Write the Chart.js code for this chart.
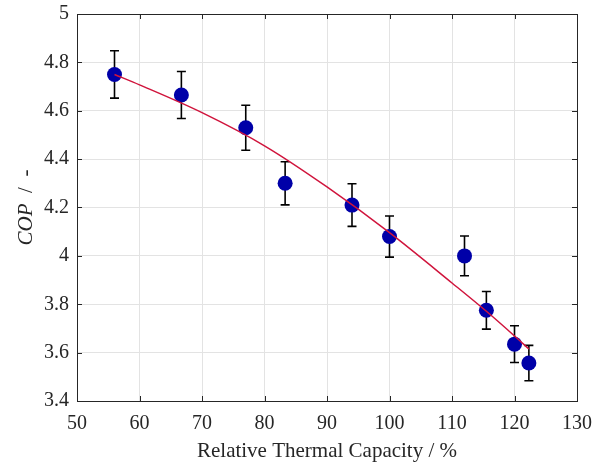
<!DOCTYPE html>
<html>
<head>
<meta charset="utf-8">
<script src="https://cdn.jsdelivr.net/npm/chart.js@4.4.1/dist/chart.umd.min.js"></script>
<style>
  body { margin: 0; background: #fff; }
  #wrap { width: 603px; height: 466px; }
</style>
</head>
<body>
<div id="wrap"><canvas id="cop"></canvas></div>
<script>
// measured points
const capacity = [56, 66.7, 77, 83.3, 94, 100, 112, 115.5, 120, 122.3];
const cop = [4.75, 4.665, 4.53, 4.3, 4.21, 4.08, 4.0, 3.775, 3.635, 3.557];
const copErr = [0.098, 0.097, 0.093, 0.089, 0.088, 0.085, 0.082, 0.078, 0.076, 0.073];

// fitted curve
const fitX = [56, 60, 70, 80, 90, 100, 110, 115.5, 120, 122.3];
const fitY = [4.75, 4.707, 4.592, 4.455, 4.285, 4.096, 3.888, 3.771, 3.669, 3.615];

const xTicks = [50, 60, 70, 80, 90, 100, 110, 120, 130];
const yTicks = [3.4, 3.6, 3.8, 4, 4.2, 4.4, 4.6, 4.8, 5];

const axisColor = '#262626';
const fontFamily = '"Liberation Serif", "Times New Roman", serif';

// error bars, drawn under the markers
const errorBars = {
    id: 'errorBars',
    beforeDatasetsDraw(chart) {
        const ctx = chart.ctx;
        const xs = chart.scales.x, ys = chart.scales.y;
        ctx.save();
        ctx.strokeStyle = '#000';
        ctx.lineWidth = 1.6;
        for (let i = 0; i < capacity.length; i++) {
            const px = xs.getPixelForValue(capacity[i]);
            const top = ys.getPixelForValue(cop[i] + copErr[i]);
            const bot = ys.getPixelForValue(cop[i] - copErr[i]);
            ctx.beginPath();
            ctx.moveTo(px, top); ctx.lineTo(px, bot);
            ctx.moveTo(px - 4.5, top); ctx.lineTo(px + 4.5, top);
            ctx.moveTo(px - 4.5, bot); ctx.lineTo(px + 4.5, bot);
            ctx.stroke();
        }
        ctx.restore();
    }
};

// box around the axes with inward ticks, and the y title
const boxAxes = {
    id: 'boxAxes',
    afterDraw(chart) {
        const ctx = chart.ctx;
        const a = chart.chartArea;
        const xs = chart.scales.x, ys = chart.scales.y;
        ctx.save();
        ctx.strokeStyle = axisColor;
        ctx.lineWidth = 1;
        ctx.strokeRect(Math.round(a.left) + 0.5, Math.round(a.top) + 0.5,
            Math.round(a.right - a.left), Math.round(a.bottom - a.top));
        ctx.beginPath();
        xTicks.forEach(v => {
            const p = Math.round(xs.getPixelForValue(v)) + 0.5;
            ctx.moveTo(p, a.bottom); ctx.lineTo(p, a.bottom - 5);
            ctx.moveTo(p, a.top); ctx.lineTo(p, a.top + 5);
        });
        yTicks.forEach(v => {
            const p = Math.round(ys.getPixelForValue(v)) + 0.5;
            ctx.moveTo(a.left, p); ctx.lineTo(a.left + 5, p);
            ctx.moveTo(a.right, p); ctx.lineTo(a.right - 5, p);
        });
        ctx.stroke();

        // y title: "COP / -" with COP in italics
        const cy = (a.top + a.bottom) / 2;
        ctx.translate(26, cy);
        ctx.rotate(-Math.PI / 2);
        ctx.fillStyle = axisColor;
        ctx.textBaseline = 'middle';
        const italic = 'italic 21px ' + fontFamily;
        const normal = '21px ' + fontFamily;
        const part1 = 'COP', part2 = '  /  -';
        ctx.font = italic;
        const w1 = ctx.measureText(part1).width;
        ctx.font = normal;
        const w2 = ctx.measureText(part2).width;
        let x0 = -(w1 + w2) / 2;
        ctx.font = italic;
        ctx.fillText(part1, x0, 0);
        ctx.font = normal;
        ctx.fillText(part2, x0 + w1, 0);
        ctx.restore();
    }
};

new Chart(document.getElementById('cop'), {
    type: 'scatter',
    data: {
        datasets: [
            {
                label: 'fit',
                data: fitX.map((x, i) => ({ x: x, y: fitY[i] })),
                showLine: true,
                borderColor: '#d0143c',
                borderWidth: 1.5,
                pointRadius: 0,
                cubicInterpolationMode: 'monotone',
                order: 0
            },
            {
                label: 'COP',
                data: capacity.map((x, i) => ({ x: x, y: cop[i] })),
                backgroundColor: '#0000a8',
                borderColor: '#0000a8',
                pointRadius: 7.5,
                borderWidth: 0,
                order: 1
            }
        ]
    },
    options: {
        responsive: true,
        maintainAspectRatio: false,
        animation: false,
        layout: { padding: { top: 14, right: 26, left: 0, bottom: 0 } },
        plugins: {
            legend: { display: false },
            tooltip: { enabled: false }
        },
        scales: {
            x: {
                type: 'linear',
                min: 50, max: 130,
                afterBuildTicks: s => { s.ticks = xTicks.map(v => ({ value: v })); },
                afterFit: s => { s.height = 65; s.paddingLeft = 0; s.paddingRight = 0; },
                grid: { color: '#e3e3e3', drawTicks: false },
                border: { display: false },
                ticks: {
                    color: axisColor,
                    padding: 11,
                    maxRotation: 0,
                    font: { family: fontFamily, size: 20 }
                },
                title: {
                    display: true,
                    text: 'Relative Thermal Capacity / %',
                    color: axisColor,
                    padding: { top: 0, bottom: 2 },
                    font: { family: fontFamily, size: 21 }
                }
            },
            y: {
                type: 'linear',
                min: 3.4, max: 5,
                afterBuildTicks: s => { s.ticks = yTicks.map(v => ({ value: v })); },
                afterFit: s => { s.width = 77; s.paddingTop = 0; s.paddingBottom = 0; },
                grid: { color: '#e3e3e3', drawTicks: false },
                border: { display: false },
                ticks: {
                    color: axisColor,
                    padding: 8,
                    font: { family: fontFamily, size: 20 },
                    callback: v => String(Math.round(v * 10) / 10)
                }
            }
        }
    },
    plugins: [errorBars, boxAxes]
});
</script>
</body>
</html>
